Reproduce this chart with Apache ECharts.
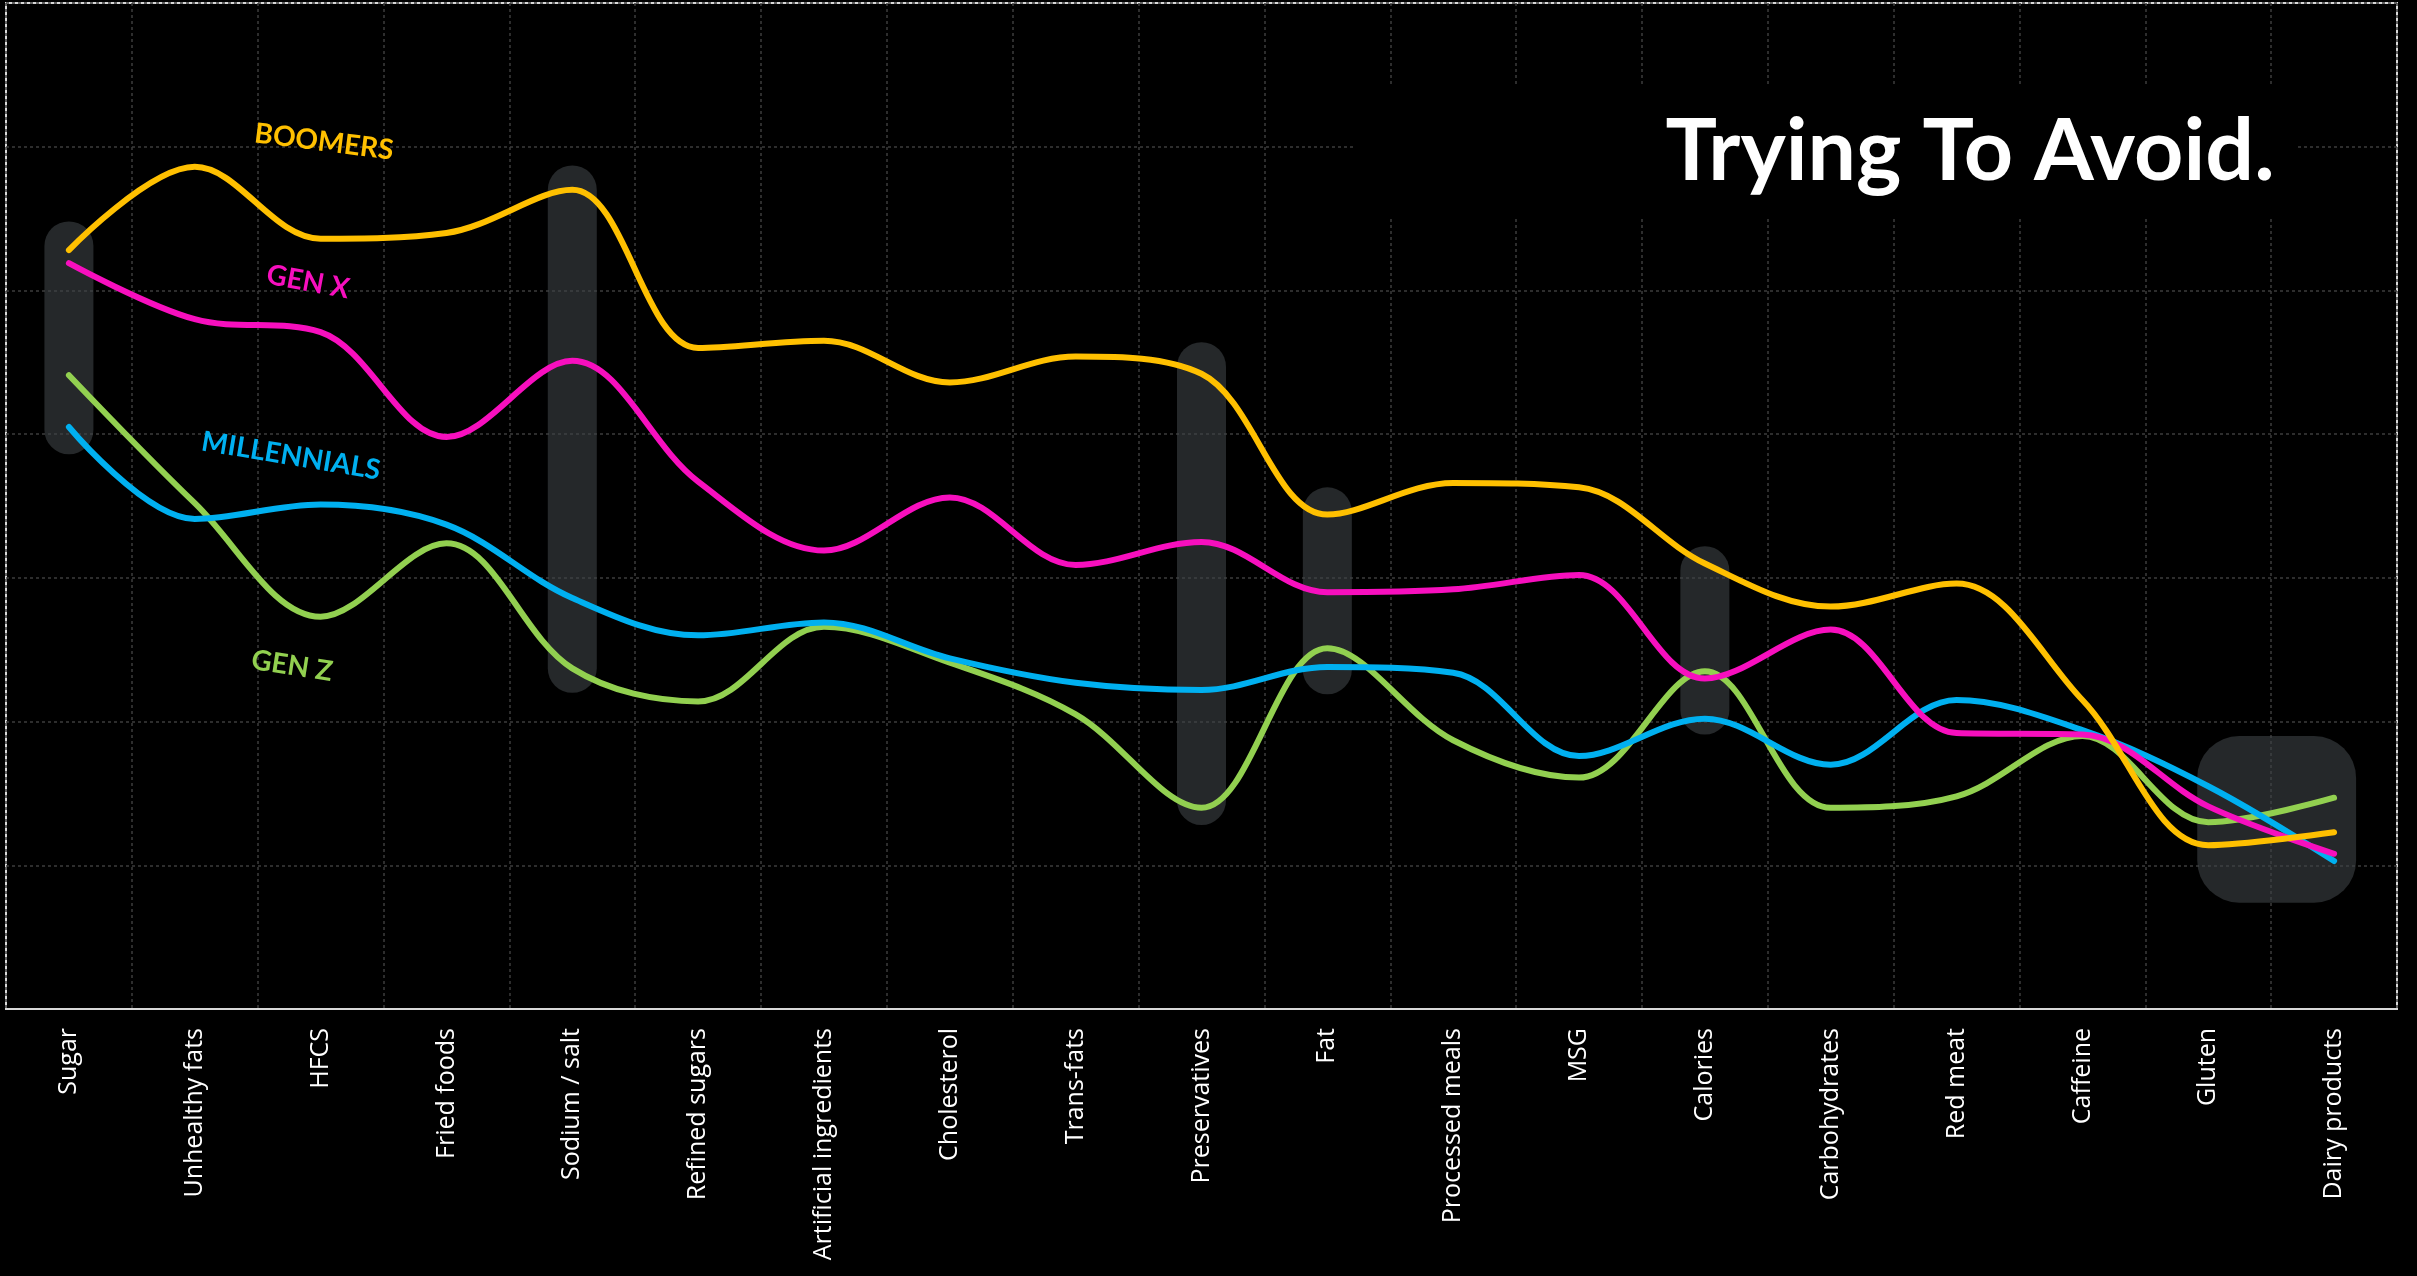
<!DOCTYPE html>
<html>
<head>
<meta charset="utf-8">
<title>Trying To Avoid.</title>
<script src="https://cdn.jsdelivr.net/npm/echarts@6/dist/echarts.min.js"></script>
<style>
  html, body { margin: 0; padding: 0; background: #000; }
  #chart { width: 2417px; height: 1276px; }
</style>
</head>
<body>
<div id="chart"></div>
<script>
// Foods each generation is trying to avoid (share of respondents, %)
const categories = ['Sugar', 'Unhealthy fats', 'HFCS', 'Fried foods', 'Sodium / salt', 'Refined sugars',
  'Artificial ingredients', 'Cholesterol', 'Trans-fats', 'Preservatives', 'Fat', 'Processed meals',
  'MSG', 'Calories', 'Carbohydrates', 'Red meat', 'Caffeine', 'Gluten', 'Dairy products'];

const boomers     = [52.8, 58.6, 53.6, 54.0, 57.0, 46.0, 46.5, 43.6, 45.4, 44.2, 34.4, 36.6, 36.3, 31.0, 28.0, 29.6, 21.5, 11.4, 12.3];
const genX        = [51.9, 48.0, 47.1, 39.8, 45.1, 36.7, 31.9, 35.6, 30.9, 32.5, 29.0, 29.2, 30.2, 23.0, 26.4, 19.2, 19.1, 14.1, 10.8];
const millennials = [40.5, 34.1, 35.1, 33.7, 28.6, 26.0, 26.9, 24.4, 22.7, 22.2, 23.8, 23.4, 17.6, 20.2, 17.0, 21.5, 19.4, 15.5, 10.3];
const genZ        = [44.1, 35.2, 27.3, 32.4, 23.7, 21.4, 26.6, 24.1, 20.5, 14.0, 25.1, 18.7, 16.1, 23.5, 14.0, 14.8, 19.0, 13.0, 14.7];

// Highlighted columns: category index with the value span they cover
const spotCols  = [0, 4, 9, 10, 13];
const spotLow   = [38.6, 22.0, 12.8, 21.9, 19.1];
const spotHigh  = [54.8, 58.7, 46.4, 36.3, 32.2];

// Highlight block spanning the last two columns
const blockFrom = 17;
const blockTo   = 18;
const blockLow  = 7.4;
const blockHigh = 19.0;

const yMin = 0, yMax = 70, yStep = 10;

const COLORS = {
  boomers: '#FFC000',
  genX: '#F70FBE',
  millennials: '#00B0F0',
  genZ: '#92D050'
};

const chart = echarts.init(document.getElementById('chart'), null, { renderer: 'canvas' });

const gridLine = { color: '#3d3d3d', width: 1.5, type: [3, 3] };
const spotFill = 'rgba(62,66,70,0.6)';

function lineSeries(name, data, color) {
  return {
    name: name,
    type: 'line',
    data: data,
    smooth: 0.35,
    symbol: 'none',
    z: 3,
    lineStyle: { color: color, width: 6, cap: 'round', join: 'round' },
    emphasis: { disabled: true }
  };
}

const option = {
  backgroundColor: '#000',
  animation: false,
  grid: {
    left: 6, top: 3, right: 20, bottom: 267,
    show: true,
    borderColor: '#d9d9d9',
    borderWidth: 2,
    backgroundColor: 'transparent'
  },
  xAxis: {
    type: 'category',
    data: categories,
    boundaryGap: true,
    axisLine: { show: true, lineStyle: { color: '#d9d9d9', width: 2 } },
    axisTick: { show: false },
    splitLine: { show: true, interval: 0, lineStyle: gridLine },
    axisLabel: {
      interval: 0,
      rotate: 90,
      margin: 19,
      color: '#ffffff',
      fontFamily: '"Open Sans"',
      fontSize: 25
    }
  },
  yAxis: {
    type: 'value',
    min: yMin,
    max: yMax,
    interval: yStep,
    axisLine: { show: false },
    axisTick: { show: false },
    axisLabel: { show: false },
    splitLine: { show: true, lineStyle: gridLine }
  },
  series: [
    {
      type: 'custom',
      name: 'spots',
      z: 1,
      silent: true,
      data: spotCols.map((c, i) => [c, spotLow[i], spotHigh[i]]),
      renderItem: function (params, api) {
        const top = api.coord([api.value(0), api.value(2)]);
        const bottom = api.coord([api.value(0), api.value(1)]);
        const w = 49;
        return {
          type: 'rect',
          shape: { x: top[0] - w / 2, y: top[1], width: w, height: bottom[1] - top[1], r: w / 2 },
          style: { fill: spotFill }
        };
      }
    },
    {
      type: 'custom',
      name: 'block',
      z: 1,
      silent: true,
      data: [[blockFrom, blockTo, blockLow, blockHigh]],
      renderItem: function (params, api) {
        const tl = api.coord([api.value(0), api.value(3)]);
        const br = api.coord([api.value(1), api.value(2)]);
        const padL = 11, padR = 22;
        return {
          type: 'rect',
          shape: { x: tl[0] - padL, y: tl[1], width: br[0] - tl[0] + padL + padR, height: br[1] - tl[1], r: 42 },
          style: { fill: spotFill }
        };
      }
    },
    lineSeries('Gen Z', genZ, COLORS.genZ),
    lineSeries('Millennials', millennials, COLORS.millennials),
    lineSeries('Gen X', genX, COLORS.genX),
    lineSeries('Boomers', boomers, COLORS.boomers)
  ],
  graphic: [
    // black panel behind the title
    { type: 'rect', z: 50, shape: { x: 1353, y: 85, width: 945, height: 133 }, style: { fill: '#000' } },
    {
      type: 'text', z: 51, x: 1970, y: 152,
      style: {
        text: 'Trying To Avoid.',
        fill: '#ffffff',
        font: 'bold 86px Lato, "Open Sans", sans-serif',
        textAlign: 'center',
        textVerticalAlign: 'middle'
      }
    },
    // series name tags
    {
      type: 'text', z: 52, x: 324, y: 142, rotation: -7.2 * Math.PI / 180,
      style: { text: 'BOOMERS', fill: COLORS.boomers, font: 'bold 28px Lato, sans-serif', textAlign: 'center', textVerticalAlign: 'middle' }
    },
    {
      type: 'text', z: 52, x: 308, y: 282, rotation: -10.5 * Math.PI / 180,
      style: { text: 'GEN X', fill: COLORS.genX, font: 'bold 28px Lato, sans-serif', textAlign: 'center', textVerticalAlign: 'middle' }
    },
    {
      type: 'text', z: 52, x: 291, y: 456, rotation: -9.4 * Math.PI / 180,
      style: { text: 'MILLENNIALS', fill: COLORS.millennials, font: 'bold 28px Lato, sans-serif', textAlign: 'center', textVerticalAlign: 'middle' }
    },
    {
      type: 'text', z: 52, x: 292, y: 666, rotation: -8.7 * Math.PI / 180,
      style: { text: 'GEN Z', fill: COLORS.genZ, font: 'bold 28px Lato, sans-serif', textAlign: 'center', textVerticalAlign: 'middle' }
    }
  ]
};

chart.setOption(option);
</script>
</body>
</html>
